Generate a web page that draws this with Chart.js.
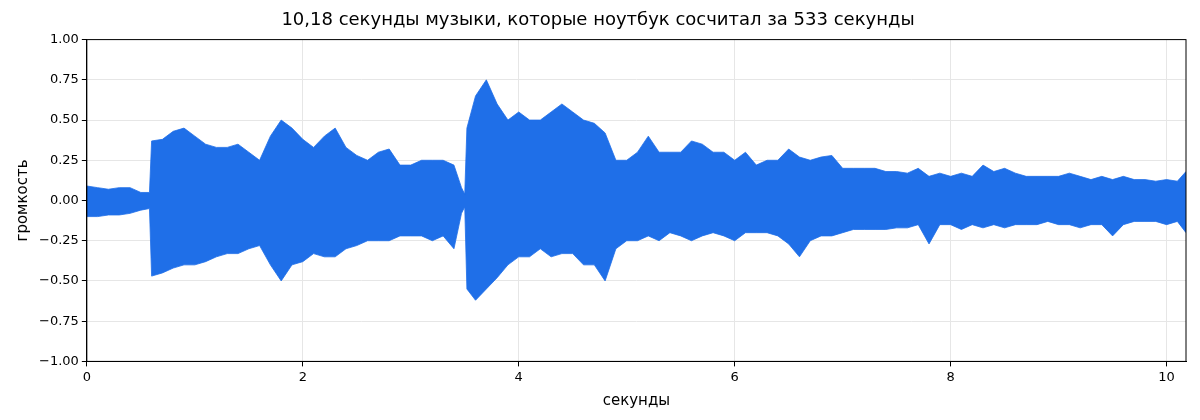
<!DOCTYPE html>
<html><head><meta charset="utf-8">
<script src="https://cdn.jsdelivr.net/npm/chart.js@4"></script>
<style>body{margin:0;background:#fff}#w{width:1200px;height:420px}</style>
</head><body><div id="w"><canvas id="c"></canvas></div>
<script>
const times=[0,0.1,0.2,0.3,0.4,0.5,0.58,0.6,0.7,0.8,0.9,1.0,1.1,1.2,1.3,1.4,1.5,1.6,1.7,1.8,1.9,2.0,2.1,2.2,2.3,2.4,2.5,2.6,2.7,2.8,2.9,3.0,3.1,3.2,3.3,3.4,3.47,3.5,3.52,3.6,3.7,3.8,3.9,4.0,4.1,4.2,4.3,4.4,4.5,4.6,4.7,4.8,4.9,5.0,5.1,5.2,5.3,5.4,5.5,5.6,5.7,5.8,5.9,6.0,6.1,6.2,6.3,6.4,6.5,6.6,6.7,6.8,6.9,7.0,7.1,7.2,7.3,7.4,7.5,7.6,7.7,7.8,7.9,8.0,8.1,8.2,8.3,8.4,8.5,8.6,8.7,8.8,8.9,9.0,9.1,9.2,9.3,9.4,9.5,9.6,9.7,9.8,9.9,10.0,10.1,10.18];
const upper=[0.09,0.08,0.07,0.08,0.08,0.05,0.05,0.37,0.38,0.43,0.45,0.40,0.35,0.33,0.33,0.35,0.30,0.25,0.40,0.50,0.45,0.38,0.33,0.40,0.45,0.33,0.28,0.25,0.30,0.32,0.22,0.22,0.25,0.25,0.25,0.22,0.08,0.04,0.45,0.65,0.75,0.60,0.50,0.55,0.50,0.50,0.55,0.60,0.55,0.50,0.48,0.42,0.25,0.25,0.30,0.40,0.30,0.30,0.30,0.37,0.35,0.30,0.30,0.25,0.30,0.22,0.25,0.25,0.32,0.27,0.25,0.27,0.28,0.20,0.20,0.20,0.20,0.18,0.18,0.17,0.20,0.15,0.17,0.15,0.17,0.15,0.22,0.18,0.20,0.17,0.15,0.15,0.15,0.15,0.17,0.15,0.13,0.15,0.13,0.15,0.13,0.13,0.12,0.13,0.12,0.18];
const lower=[-0.10,-0.10,-0.09,-0.09,-0.08,-0.06,-0.05,-0.47,-0.45,-0.42,-0.40,-0.40,-0.38,-0.35,-0.33,-0.33,-0.30,-0.28,-0.40,-0.50,-0.40,-0.38,-0.33,-0.35,-0.35,-0.30,-0.28,-0.25,-0.25,-0.25,-0.22,-0.22,-0.22,-0.25,-0.22,-0.30,-0.08,-0.04,-0.55,-0.62,-0.55,-0.48,-0.40,-0.35,-0.35,-0.30,-0.35,-0.33,-0.33,-0.40,-0.40,-0.50,-0.30,-0.25,-0.25,-0.22,-0.25,-0.20,-0.22,-0.25,-0.22,-0.20,-0.22,-0.25,-0.20,-0.20,-0.20,-0.22,-0.27,-0.35,-0.25,-0.22,-0.22,-0.20,-0.18,-0.18,-0.18,-0.18,-0.17,-0.17,-0.15,-0.27,-0.15,-0.15,-0.18,-0.15,-0.17,-0.15,-0.17,-0.15,-0.15,-0.15,-0.13,-0.15,-0.15,-0.17,-0.15,-0.15,-0.22,-0.15,-0.13,-0.13,-0.13,-0.15,-0.13,-0.20];
const xTicks=[0,2,4,6,8,10];
const blue='#1f6fe8';
const fnt={family:'DejaVu Sans',size:13};
new Chart(document.getElementById('c'),{type:'line',
data:{datasets:[
{data:times.map((t,i)=>({x:t,y:upper[i]})),borderColor:blue,backgroundColor:blue,borderWidth:0.8,pointRadius:0,fill:'+1',tension:0},
{data:times.map((t,i)=>({x:t,y:lower[i]})),borderColor:blue,borderWidth:0.8,pointRadius:0,fill:false,tension:0}]},
options:{responsive:true,maintainAspectRatio:false,animation:false,
layout:{padding:{left:10,right:14,top:4,bottom:6}},
plugins:{legend:{display:false},tooltip:{enabled:false},
title:{display:true,text:'10,18 секунды музыки, которые ноутбук сосчитал за 533 секунды',color:'#000',font:{family:'DejaVu Sans',size:18,weight:'normal'},padding:{top:6,bottom:8}}},
scales:{
x:{type:'linear',min:0,max:10.18,afterBuildTicks:a=>{a.ticks=xTicks.map(v=>({value:v}));},
ticks:{color:'#000',font:fnt,maxRotation:0},grid:{color:'#e6e6e6',tickColor:'#000',tickLength:5},border:{color:'#000'},
title:{display:true,text:'секунды',color:'#000',font:{family:'DejaVu Sans',size:15}}},
y:{min:-1,max:1,ticks:{stepSize:0.25,color:'#000',font:fnt,callback:v=>(v<0?'\u2212':'')+Math.abs(v).toFixed(2)},grid:{color:'#e6e6e6',tickColor:'#000',tickLength:5},border:{color:'#000'},
title:{display:true,text:'громкость',color:'#000',font:{family:'DejaVu Sans',size:15}}}}},
plugins:[{id:'frame',afterDraw(c){const a=c.chartArea,x=c.ctx;x.save();x.strokeStyle='#000';x.lineWidth=1;x.strokeRect(a.left,a.top,a.right-a.left,a.bottom-a.top);x.restore();}}]
});
</script></body></html>
